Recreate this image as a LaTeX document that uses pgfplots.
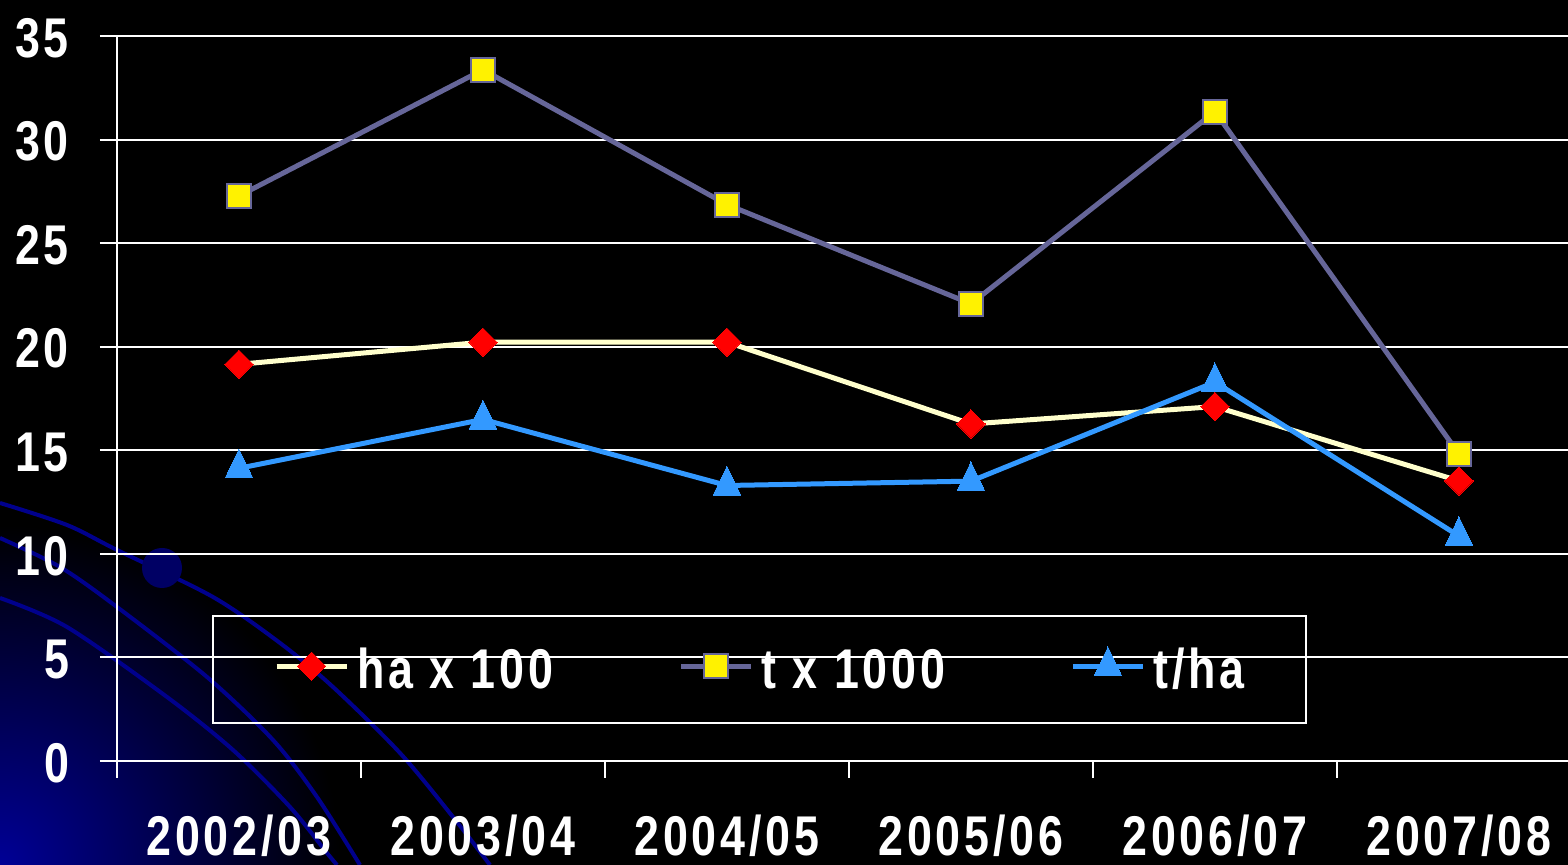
\documentclass[border=0pt]{standalone}
\usepackage{fontspec}
\usepackage{pgfplots}
\pgfplotsset{compat=1.18}
\newfontfamily\lab{Liberation Sans}[FakeStretch=0.8,LetterSpace=7]
\newcommand\labfont{\lab\bfseries\fontsize{28}{30}\selectfont}
\definecolor{hacol}{HTML}{FFFFCC}
\definecolor{tcol}{HTML}{666699}
\definecolor{thacol}{HTML}{3399FF}
\definecolor{deco}{RGB}{0,0,140}
\definecolor{glow}{RGB}{0,0,150}
\definecolor{ballc}{RGB}{0,0,100}

\pgfplotstableread{
x ha t tha
0 19.15 27.28 14.13
1 20.22 33.37 16.49
2 20.22 26.86 13.30
3 16.27 22.07 13.51
4 17.11 31.35 18.29
5 13.52 14.82 10.86
}\datatab

\begin{document}
\begin{tikzpicture}
\useasboundingbox (0,0) rectangle (784pt,432.5pt);
\fill[black] (0,0) rectangle (784pt,432.5pt);
\begin{scope}[x=0.5pt,y=-0.5pt,yshift=432.5pt]
  \clip (0,0) rectangle (1568,865);
  \shade[inner color=glow, outer color=black] (0,865) circle (340);
  \draw[deco,line width=2pt] plot[smooth] coordinates {(0,503) (67,525) (117,550) (213,597) (280,643) (333,687) (400,753) (453,817) (490,865)};
  \draw[deco,line width=2pt] plot[smooth] coordinates {(0,538) (60,567) (117,607) (207,677) (273,740) (317,797) (360,865)};
  \draw[deco,line width=2pt] plot[smooth] coordinates {(0,598) (67,627) (167,697) (233,750) (290,807) (327,853) (337,865)};
  \fill[ballc] (162,568) circle (20);
\end{scope}
\begin{axis}[
  at={(58.5pt,52pt)}, anchor=south west,
  scale only axis, width=725.5pt, height=362.5pt,
  xmin=-0.5, xmax=5.447, ymin=0, ymax=35,
  axis x line*=bottom, axis y line*=left,
  axis line style={white,line width=1pt,-},
  xtick={-0.5,0.5,1.5,2.5,3.5,4.5}, xticklabels={},
  extra x ticks={0,1,2,3,4,5},
  extra x tick labels={2002/03,2003/04,2004/05,2005/06,2006/07,2007/08},
  extra x tick style={major tick length=0pt, xticklabel style={yshift=-23.5pt}},
  ytick={0,5,...,35},
  ymajorgrids, grid style={white,line width=1pt},
  tick style={white,line width=1pt},
  major tick length=8.5pt, tick align=outside,
  /pgf/number format/assume math mode=true,
  tick label style={font=\labfont, text=white},
  yticklabel style={xshift=-12pt, yshift=-1pt},
  clip=false,
  legend columns=3,
  legend style={at={(0.0655,0.2014)}, anchor=north west, draw=white, line width=1pt,
    fill=none, text=white, font=\labfont, inner xsep=30.5pt, inner ysep=15.5pt,
    nodes={inner sep=0pt},
    /tikz/every odd column/.style={column sep=4pt},
    /tikz/every even column/.style={column sep=62.5pt}},
  legend image code/.code={\draw[mark repeat=2,mark phase=2,#1] plot coordinates {(0pt,2pt) (17.5pt,2pt) (35pt,2pt)};},
]
\addplot[hacol, line width=2.5pt, mark=square*, mark size=5pt,
  mark options={rotate=45, fill=red, draw=red, line width=0pt}] table[x=x,y=ha] {\datatab};
\addlegendentry{ha x 100}
\addplot[tcol, line width=2.5pt, mark=square*, mark size=6pt,
  mark options={fill=yellow, draw=tcol, line width=1pt}] table[x=x,y=t] {\datatab};
\addlegendentry{t x 1000}
\addplot[thacol, line width=2.5pt, mark=triangle*, mark size=8pt,
  mark options={yscale=1.2, fill=thacol, draw=thacol, line width=0pt}] table[x=x,y=tha] {\datatab};
\addlegendentry{t/ha}
\end{axis}
\end{tikzpicture}
\end{document}
